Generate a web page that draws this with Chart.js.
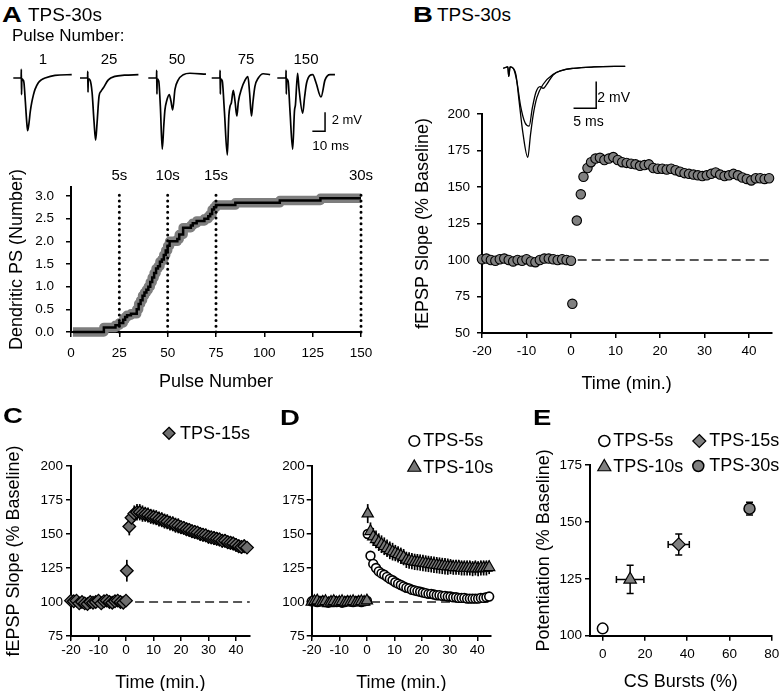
<!DOCTYPE html>
<html><head><meta charset="utf-8">
<script src="https://cdn.jsdelivr.net/npm/chart.js@4.4.0/dist/chart.umd.min.js"></script>
<style>
html,body{margin:0;padding:0;background:#fff;overflow:hidden;}
#page{position:relative;width:780px;height:691px;overflow:hidden;font-family:'Liberation Sans',Arial,Helvetica,sans-serif;color:#000;background:#fff;}
canvas{position:absolute;}
.t{position:absolute;white-space:nowrap;line-height:1;}
.L{font-weight:bold;font-size:22px;transform:scaleX(1.25);transform-origin:0 0;}
</style></head>
<body><div id="page">
<canvas id="cTr0"></canvas><canvas id="cTr1"></canvas><canvas id="cTr2"></canvas><canvas id="cTr3"></canvas><canvas id="cTr4"></canvas>
<canvas id="cA"></canvas>
<canvas id="cB"></canvas>
<canvas id="cBtr"></canvas>
<canvas id="cC"></canvas>
<canvas id="cD"></canvas>
<canvas id="cE"></canvas>
<div class="t L" style="left:2px;top:4px">A</div>
<div class="t" style="left:28px;top:5px;font-size:19px">TPS-30s</div>
<div class="t" style="left:12px;top:27px;font-size:17px">Pulse Number:</div>
<div class="t" style="left:331.7px;top:113.3px;font-size:13px">2 mV</div>
<div class="t" style="left:312.3px;top:139.2px;font-size:13.5px">10 ms</div>
<div class="t L" style="left:413px;top:4px">B</div>
<div class="t" style="left:437px;top:5px;font-size:19px">TPS-30s</div>
<div class="t" style="left:597.3px;top:89.8px;font-size:14px">2 mV</div>
<div class="t" style="left:573.3px;top:113.7px;font-size:14px">5 ms</div>
<div class="t L" style="left:3px;top:405px">C</div>
<div class="t L" style="left:280px;top:407px">D</div>
<div class="t L" style="left:533px;top:407px">E</div>
</div>
<script>
// ======================= DATA =======================
// Panel A – example field-potential traces (time ms, voltage mV) at given pulse numbers
const traceNames = ['1', '25', '50', '75', '150'];
const trace1 = [[0,0],[6.2,0],[6.3,0.9],[6.5,-1.75],[6.7,-0.1],[7.6,-0.2],[8.4,-0.5],[9.5,-2.5],[10.5,-4.5],[11.3,-5.55],[12.3,-4.8],[13.4,-3.5],[14.5,-2.6],[15.8,-1.8],[17.1,-1.2],[19.7,-0.5],[22,-0.2],[25,0],[32.8,0.28],[46,0.35]];
const trace25 = [[0,0],[6.0,0],[6.1,0.7],[6.3,-1.5],[6.5,-0.1],[7.8,-0.2],[9.5,-1.5],[11,-4.5],[12.3,-6.55],[13.4,-4.8],[15,-1.9],[16.5,-1.4],[18.3,-1.05],[22.3,-0.2],[27.5,0.17],[35,0.3],[46,0.35]];
const trace50 = [[0,0],[6.5,0],[6.6,0.8],[6.8,-1.7],[7.0,-0.1],[8.2,-0.3],[9.5,-3],[11,-7.5],[12.2,-5],[13.1,-3.35],[14.5,-2.4],[16.5,-1.75],[17.8,-2.4],[19.2,-3.35],[21,-1.2],[23.6,-0.2],[27.6,0.35],[32.8,0.5],[45.4,0.4]];
const trace75 = [[0,0],[6.5,0],[6.6,0.8],[6.8,-1.7],[7.0,-0.1],[8.3,-0.3],[10,-3.5],[12.3,-8.1],[13.5,-4],[14.4,-3.0],[15.5,-2.6],[17,-1.3],[18.4,-2.5],[19.8,-4.0],[21,-2.5],[23.7,-1.05],[26,-0.3],[28.5,0.15],[29.8,-1.5],[31.3,-4.0],[32.5,-2.5],[34,-0.9],[36.7,0],[40.6,0.45],[46,0.35]];
const trace150 = [[0,0],[6.8,0],[6.9,0.8],[7.1,-1.7],[7.3,-0.1],[8.5,-0.3],[10,-3.5],[12.1,-7.5],[13.5,-3.5],[14.3,-2.8],[16,0.5],[17,-1],[20,-3.7],[21.5,-2],[23.1,-0.5],[27.9,0.35],[30.5,-0.5],[34.4,-2.0],[37.6,-0.2],[41.5,0.35],[45.4,0.35]];

// Panel A – cumulative dendritic population spikes vs pulse number (step curve)
const pulsesA = [1,16,17,23,25,27,28,29,31,34,35,36,37,38,39,40,41,42,43,44,45,46,47,48,49,50,51,53,55,56,58,60,62,63,65,67,69,71,72,73,74,75,85,108,129,150];
const dendriticPS = [0,0,0.1,0.15,0.2,0.27,0.33,0.37,0.4,0.5,0.62,0.7,0.8,0.87,0.93,1.0,1.1,1.2,1.3,1.4,1.45,1.55,1.6,1.7,1.8,1.9,2.0,2.0,2.05,2.15,2.3,2.3,2.35,2.4,2.45,2.45,2.5,2.55,2.6,2.7,2.75,2.8,2.85,2.9,2.95,2.95];
const markerPulses = [25, 50, 75, 150];
const markerLabels = ['5s', '10s', '15s', '30s'];

// Panel B – example traces (ms, mV) and fEPSP slope time course
const traceB1 = [[0,0],[1.0,0.1],[1.2,-0.6],[1.5,0.1],[2.2,0],[2.8,-0.5],[3.5,-2.5],[4.3,-4.8],[5.4,-6.7],[6.0,-5.0],[6.6,-3.5],[7.4,-2.2],[8.8,-1.2],[11,-0.45],[13,-0.15],[15.5,0],[20,0.1],[26.9,0.15]];
const traceB2 = [[0,0],[1.0,0.1],[1.2,-0.6],[1.5,0.1],[2.2,0],[3.0,-1],[3.8,-2.8],[4.8,-4.1],[5.7,-4.35],[6.4,-3.0],[7.2,-1.8],[8.1,-1.38],[8.8,-1.5],[9.5,-1.25],[11,-0.5],[13,-0.15],[15.5,0],[20,0.1],[26.9,0.15]];
const timeB = [-20,-19,-18,-17,-16,-15,-14,-13,-12,-11,-10,-9,-8,-7,-6,-5,-4,-3,-2,-1,0,0.3,1.3,2.2,2.8,3.7,4.5,5.5,6.5,7.5,8.5,9.5,10.5,11.5,12.5,13.5,14.5,15.5,16.5,17.5,18.5,19.5,20.5,21.5,22.5,23.5,24.5,25.5,26.5,27.5,28.5,29.5,30.5,31.5,32.5,33.5,34.5,35.5,36.5,37.5,38.5,39.5,40.5,41.5,42.5,43.5,44.5];
const slopeB = [100.5,101,100,99.5,100.5,101,100,99,100,99.5,100.5,99,98.5,100,101,101,100.5,100,100.5,100,99.5,
  70,127,145,157,163,167,169.5,170,168.5,169.5,170.5,168.5,167,166.5,166,165.5,164.5,165,165.5,163,162.5,162.5,162,162.5,161.5,160.5,159.5,159,158.5,158,157.5,158,159,160,158.5,157.5,158,159,158,156.5,155.5,154.5,156,156,155.5,156];

// Panel C – TPS-15s
const timeC = [-20,-19,-18,-17,-16,-15,-14,-13,-12,-11,-10,-9,-8,-7,-6,-5,-4,-3,-2,-1,0,0.3,1.2,2,3,4,5,6,7,8,9,10,11,12,13,14,15,16,17,18,19,20,21,22,23,24,25,26,27,28,29,30,31,32,33,34,35,36,37,38,39,40,41,42,43,44];
const slopeC = [101,100.5,101,99,100,99,98.5,100,99.5,100,101,99,100.5,101,100,99.5,100.5,101,100,99.5,101,
  123,155.5,162,165,166,166,165,164.5,164,163,162.5,162,161,160.5,159.5,159,158,157.5,156.5,156,155,154.5,153.5,153,152,151.5,151,150,149.5,149,148,147.5,147,146.5,146,145,145,144,143.5,143,142,141,140.5,141,140];
const semC = [1.5,1.5,1.5,1.5,1.5,1.5,1.5,1.5,1.5,1.5,1.5,1.5,1.5,1.5,1.5,1.5,1.5,1.5,1.5,1.5,1.5,
  8,6.5,5.5,6,6,6,6,5.5,5.5,5.5,5.5,5.5,5.5,5.5,5.5,5.5,5.5,5.5,5.5,5.5,5,5,5,5,5,5,5,5,5,5,5,5,5,5,5,5,5,5,5,5,5,5,5,5,4.5];

// Panel D – TPS-5s and TPS-10s
const timeD = [-20,-19,-18,-17,-16,-15,-14,-13,-12,-11,-10,-9,-8,-7,-6,-5,-4,-3,-2,-1,0,0.3,1.3,2.3,3.3,4.3,5.3,6.3,7.3,8.3,9.3,10.3,11.3,12.3,13.3,14.3,15.3,16.3,17.3,18.3,19.3,20.3,21.3,22.3,23.3,24.3,25.3,26.3,27.3,28.3,29.3,30.3,31.3,32.3,33.3,34.3,35.3,36.3,37.3,38.3,39.3,40.3,41.3,42.3,43.3,44.3];
const slope5s = [100.5,101,100,100.5,101,100,99.5,100.5,101,100,100.5,99.5,100,101,100.5,100,100.5,101,100,100.5,101,
  150,134,128,125,122.5,121,120,118.5,117,116,114.5,113.5,112.5,111.5,110.5,110,109,108.5,108,107.5,107,106.5,106,106,105.5,105,105,104.5,104.5,104,104,103.5,103.5,103,103,103,102.5,102.5,102.5,102.5,102.5,103,103,103.5,104];
const slope10s = [100,100.5,101,99.5,100,100.5,99,100,100.5,99.5,100,100.5,99.5,100,100,100.5,99.5,100,100.5,100,101,
  165,152,148,146,144,142.5,141,139.5,138,137,136,135,134,133,131,130.5,130,129.5,129.3,129,128.7,128.3,128,127.7,127.4,127.1,126.8,126.5,126.3,126,126,125.5,125.5,125.5,125,125,125,125,124.5,125,124.5,125,125,125,125.5];
const sem10s = [1.5,1.5,1.5,1.5,1.5,1.5,1.5,1.5,1.5,1.5,1.5,1.5,1.5,1.5,1.5,1.5,1.5,1.5,1.5,1.5,1.5,
  7,6.5,6.5,6.5,6.5,6.5,6.5,6.5,6.5,6.5,6,6,6,6,6,6,6,6,6,6,6,6,6,6,6,6,6,6,6,6,5.5,5.5,5.5,5.5,5.5,5.5,5.5,5.5,5.5,5.5,5.5,5.5,5.5,5.5,5];

// Reference (baseline) level
const refLevel = 100;
const refSpanB = [1.5, 45];
const refSpanC = [3.3, 45];
const refSpanD = [1.5, 44];

// Panel E – potentiation vs CS bursts
const eLabels = ['TPS-5s', 'TPS-10s', 'TPS-15s', 'TPS-30s'];
const eBursts = [0, 13, 36, 69.5];
const eBurstsSem = [0, 6.5, 5, 0];
const ePot = [103.2, 124.7, 140.1, 155.8];
const ePotSem = [0, 6.2, 4.6, 2.8];

// ======================= HELPERS =======================
const FONT = "'Liberation Sans', Arial, Helvetica, sans-serif";
Chart.defaults.font.family = FONT;
Chart.defaults.color = '#000';
const GRAY = '#808080';

function setup(id, box) {
  const c = document.getElementById(id);
  c.width = box.w; c.height = box.h;
  c.style.left = box.l + 'px'; c.style.top = box.t + 'px';
  c.style.width = box.w + 'px'; c.style.height = box.h + 'px';
  return c;
}
function fixedSize(sz) {
  return function (s) {
    if (s.isHorizontal()) s.height = sz; else s.width = sz;
    s.paddingLeft = 0; s.paddingRight = 0; s.paddingTop = 0; s.paddingBottom = 0;
  };
}
function axis(o) {
  const horiz = o.pos === 'bottom';
  return {
    type: 'linear', position: o.pos, min: o.min, max: o.max,
    ticks: { stepSize: o.step, includeBounds: false, padding: o.tickPad, font: { size: 13.5 }, color: '#000',
      maxRotation: 0, autoSkip: false, callback: o.fmt || (v => String(v)) },
    grid: { drawOnChartArea: false, drawTicks: true, tickLength: 5, tickWidth: 1.5, color: '#000', lineWidth: 1.5 },
    border: { display: true, color: '#000', width: 2 },
    title: { display: !!o.title, text: o.title || '', font: { size: 18 }, color: '#000',
      padding: horiz ? { top: 0, bottom: o.titlePad || 0 } : { top: o.titlePad || 0, bottom: 0 } },
    afterFit: fixedSize(o.size)
  };
}
function xy(xs, ys) { return xs.map((x, i) => ({ x: x, y: ys[i] })); }
function pairs(arr) { return arr.map(p => ({ x: p[0], y: p[1] })); }

function drawMarker(ctx, style, r, x, y, fill, stroke, bw) {
  ctx.save(); ctx.beginPath();
  if (style === 'triangle') {
    for (let k = 0; k < 3; k++) {
      const a = k * 2 * Math.PI / 3;
      const px = x + Math.sin(a) * r, py = y - Math.cos(a) * r;
      if (k) ctx.lineTo(px, py); else ctx.moveTo(px, py);
    }
    ctx.closePath();
  } else if (style === 'rectRot') {
    ctx.moveTo(x, y - r); ctx.lineTo(x + r, y); ctx.lineTo(x, y + r); ctx.lineTo(x - r, y); ctx.closePath();
  } else {
    ctx.arc(x, y, r, 0, Math.PI * 2);
  }
  ctx.fillStyle = fill; ctx.fill();
  ctx.lineWidth = bw; ctx.strokeStyle = stroke; ctx.stroke();
  ctx.restore();
}

const errorBarPlugin = {
  id: 'errorBars',
  beforeDatasetsDraw(chart, args, opts) {
    const ctx = chart.ctx, xs = chart.scales.x, ys = chart.scales.y;
    (opts.sets || []).forEach(s => {
      const ds = chart.data.datasets[s.dataset];
      ctx.save(); ctx.strokeStyle = '#000'; ctx.lineWidth = s.width || 1.2;
      ds.data.forEach((p, i) => {
        const px = xs.getPixelForValue(p.x), py = ys.getPixelForValue(p.y);
        const ye = s.yErr ? s.yErr[i] : 0, xe = s.xErr ? s.xErr[i] : 0, cap = s.cap || 0;
        ctx.beginPath();
        if (ye) {
          const t = ys.getPixelForValue(p.y + ye), b = ys.getPixelForValue(p.y - ye);
          ctx.moveTo(px, t); ctx.lineTo(px, b);
          if (cap) { ctx.moveTo(px - cap, t); ctx.lineTo(px + cap, t); ctx.moveTo(px - cap, b); ctx.lineTo(px + cap, b); }
        }
        if (xe) {
          const l = xs.getPixelForValue(p.x - xe), r = xs.getPixelForValue(p.x + xe);
          ctx.moveTo(l, py); ctx.lineTo(r, py);
          if (cap) { ctx.moveTo(l, py - cap); ctx.lineTo(l, py + cap); ctx.moveTo(r, py - cap); ctx.lineTo(r, py + cap); }
        }
        ctx.stroke();
      });
      ctx.restore();
    });
  }
};

const freeLegendPlugin = {
  id: 'freeLegend',
  afterDraw(chart, args, opts) {
    const ctx = chart.ctx;
    (opts.items || []).forEach(it => {
      const ds = chart.data.datasets[it.dataset];
      drawMarker(ctx, ds.pointStyle, it.r, it.x, it.y, ds.pointBackgroundColor, ds.pointBorderColor, ds.pointBorderWidth);
      ctx.save();
      ctx.fillStyle = '#000'; ctx.font = '18px ' + FONT; ctx.textBaseline = 'middle'; ctx.textAlign = 'left';
      ctx.fillText(ds.label, it.x + it.gap, it.y + 0.5);
      ctx.restore();
    });
  }
};

const markerPlugin = {
  id: 'pulseMarkers',
  afterDatasetsDraw(chart, args, opts) {
    const ctx = chart.ctx, x = chart.scales.x, y = chart.scales.y;
    ctx.save();
    ctx.setLineDash([0, 5.7]); ctx.lineCap = 'round'; ctx.lineWidth = 3; ctx.strokeStyle = '#000';
    markerPulses.forEach(p => {
      const px = x.getPixelForValue(p);
      ctx.beginPath(); ctx.moveTo(px, y.getPixelForValue(0)); ctx.lineTo(px, y.getPixelForValue(opts.top)); ctx.stroke();
    });
    ctx.setLineDash([]);
    ctx.font = '15px ' + FONT; ctx.textAlign = 'center'; ctx.textBaseline = 'alphabetic'; ctx.fillStyle = '#000';
    markerPulses.forEach((p, i) => ctx.fillText(markerLabels[i], x.getPixelForValue(p), opts.labelY));
    ctx.restore();
  }
};

const scaleBarPlugin = {
  id: 'scaleBar',
  afterDatasetsDraw(chart, args, o) {
    if (!o || !o.show) return;
    const ctx = chart.ctx, x = chart.scales.x, y = chart.scales.y;
    ctx.save(); ctx.strokeStyle = '#000'; ctx.lineWidth = 1.5; ctx.lineCap = 'butt';
    ctx.beginPath();
    ctx.moveTo(x.getPixelForValue(o.x0), y.getPixelForValue(o.y0));
    ctx.lineTo(x.getPixelForValue(o.x0 + o.dx), y.getPixelForValue(o.y0));
    ctx.lineTo(x.getPixelForValue(o.x0 + o.dx), y.getPixelForValue(o.y0 + o.dy));
    ctx.stroke(); ctx.restore();
  }
};

function traceChart(id, box, area, xr, yr, datasets, plugins, pluginOpts) {
  const c = setup(id, box);
  return new Chart(c, {
    type: 'line', data: { datasets },
    options: {
      responsive: false, animation: false, events: [], devicePixelRatio: 1,
      layout: { autoPadding: false, padding: { left: area.l - box.l, top: area.t - box.t, right: box.l + box.w - area.r, bottom: box.t + box.h - area.b } },
      scales: { x: { type: 'linear', min: xr[0], max: xr[1], display: false }, y: { type: 'linear', min: yr[0], max: yr[1], display: false } },
      plugins: Object.assign({ legend: { display: false }, tooltip: { enabled: false } }, pluginOpts || {})
    },
    plugins: plugins || []
  });
}
function axesChart(id, box, area, datasets, xo, yo, plugins, pluginOpts) {
  const c = setup(id, box);
  xo.pos = 'bottom'; yo.pos = 'left';
  xo.size = box.t + box.h - area.b; yo.size = area.l - box.l;
  return new Chart(c, {
    type: 'line', data: { datasets },
    options: {
      responsive: false, animation: false, events: [], devicePixelRatio: 1,
      layout: { autoPadding: false, padding: { left: 0, top: area.t - box.t, right: box.l + box.w - area.r, bottom: 0 } },
      scales: { x: axis(xo), y: axis(yo) },
      plugins: Object.assign({ legend: { display: false }, tooltip: { enabled: false } }, pluginOpts || {})
    },
    plugins: plugins || []
  });
}
function traceSet(data, w) {
  return { data: pairs(data), borderColor: '#000', borderWidth: w || 1.6, pointRadius: 0, fill: false,
    cubicInterpolationMode: 'monotone', clip: false };
}
function refSet(span) {
  return { data: [{ x: span[0], y: refLevel }, { x: span[1], y: refLevel }], borderColor: '#222', borderWidth: 1.5,
    borderDash: [9, 5], pointRadius: 0, fill: false, order: 10, clip: false };
}

// ======================= PANEL A – traces =======================
const traceLeft = [13.3, 80, 148.3, 211.7, 277.3];
const traceLabelX = [43, 109, 177, 246, 306];
const allTraces = [trace1, trace25, trace50, trace75, trace150];
const msPerPx = 1.27, mvPerPx = 9.5;
allTraces.forEach((tr, i) => {
  const l = traceLeft[i];
  const box = { l: Math.round(l) - 8, t: 55, w: 75, h: 115 };
  const area = { l: l, r: l + 46 * msPerPx, t: 78 - 1.5 * mvPerPx, b: 78 + 8.5 * mvPerPx };
  const last = i === allTraces.length - 1;
  traceChart('cTr' + i, box, area, [0, 46], [-8.5, 1.5], [traceSet(tr, 1.7)],
    last ? [scaleBarPlugin] : [], last ? { scaleBar: { show: true, x0: 27.6, y0: -5.6, dx: 10, dy: 2 } } : {});
  const d = document.createElement('div');
  d.className = 't'; d.textContent = traceNames[i];
  d.style.cssText = 'left:' + (traceLabelX[i] - 20) + 'px;top:51.3px;width:40px;text-align:center;font-size:15px';
  document.getElementById('page').appendChild(d);
});

// ======================= PANEL A – step plot =======================
axesChart('cA', { l: 0, t: 150, w: 380, h: 250 }, { l: 71, r: 361, t: 186.9, b: 332 },
  [
    { data: xy(pulsesA, dendriticPS), stepped: 'before', borderColor: '#000', borderWidth: 2.5, pointRadius: 0, fill: false, clip: false },
    { data: xy(pulsesA, dendriticPS), stepped: 'before', borderColor: '#7e7e7e', borderWidth: 9.5, borderJoinStyle: 'round', pointRadius: 0, fill: false, clip: false, order: 5 }
  ],
  { min: 0, max: 150, step: 25, tickPad: 8.6, title: 'Pulse Number', titlePad: 7.5 },
  { min: 0, max: 3.2, step: 0.5, tickPad: 12, title: 'Dendritic PS (Number)', titlePad: 6.2, fmt: v => v.toFixed(1) },
  [markerPlugin], { pulseMarkers: { top: 3.1, labelY: 29.7 } });

// ======================= PANEL B =======================
traceChart('cBtr', { l: 490, t: 50, w: 150, h: 125 }, { l: 503.3, r: 625.2, t: 60.3, b: 164.1 }, [0, 26.9], [-7.2, 0.6],
  [traceSet(traceB1, 1.3), traceSet(traceB2, 1.3)], [scaleBarPlugin], { scaleBar: { show: true, x0: 15.5, y0: -3, dx: 5, dy: 2 } });

axesChart('cB', { l: 400, t: 100, w: 380, h: 300 }, { l: 482, r: 771.3, t: 114, b: 333 },
  [
    { label: 'TPS-30s', data: xy(timeB, slopeB), showLine: false, pointStyle: 'circle', pointRadius: 4.7,
      pointBackgroundColor: GRAY, pointBorderColor: '#000', pointBorderWidth: 1.1, clip: false },
    refSet(refSpanB)
  ],
  { min: -20, max: 45, step: 10, tickPad: 5.6, title: 'Time (min.)', titlePad: 5.2 },
  { min: 50, max: 200, step: 25, tickPad: 7, title: 'fEPSP Slope (% Baseline)', titlePad: 12.2 });

// ======================= PANEL C =======================
axesChart('cC', { l: 0, t: 420, w: 262, h: 280 }, { l: 71, r: 249.75, t: 466, b: 636 },
  [
    { label: 'TPS-15s', data: xy(timeC, slopeC), showLine: false, pointStyle: 'rectRot', pointRadius: 6.3,
      pointBackgroundColor: '#6e6e6e', pointBorderColor: '#000', pointBorderWidth: 1.3, clip: false },
    refSet(refSpanC)
  ],
  { min: -20, max: 45, step: 10, tickPad: 1, title: 'Time (min.)', titlePad: 6.2 },
  { min: 75, max: 200, step: 25, tickPad: 3, title: 'fEPSP Slope (% Baseline)', titlePad: 3.2 },
  [errorBarPlugin, freeLegendPlugin],
  { errorBars: { sets: [{ dataset: 0, yErr: semC, width: 1.7 }] },
    freeLegend: { items: [{ dataset: 0, x: 169, y: 13.3, r: 6, gap: 11 }] } });

// ======================= PANEL D =======================
axesChart('cD', { l: 262, t: 420, w: 252, h: 280 }, { l: 311.7, r: 491.1, t: 466, b: 636 },
  [
    { label: 'TPS-10s', data: xy(timeD, slope10s), showLine: false, pointStyle: 'triangle', pointRadius: 6.5,
      pointBackgroundColor: '#777', pointBorderColor: '#000', pointBorderWidth: 1.2, clip: false },
    { label: 'TPS-5s', data: xy(timeD, slope5s), showLine: false, pointStyle: 'circle', pointRadius: 4.4,
      pointBackgroundColor: '#fff', pointBorderColor: '#000', pointBorderWidth: 1.6, clip: false },
    refSet(refSpanD)
  ],
  { min: -20, max: 45, step: 10, tickPad: 1, title: 'Time (min.)', titlePad: 5.9 },
  { min: 75, max: 200, step: 25, tickPad: 2 },
  [errorBarPlugin, freeLegendPlugin],
  { errorBars: { sets: [{ dataset: 0, yErr: sem10s, width: 1.7 }] },
    freeLegend: { items: [{ dataset: 1, x: 152.3, y: 21, r: 5.3, gap: 9 }, { dataset: 0, x: 152.3, y: 47.5, r: 7.5, gap: 9 }] } });

// ======================= PANEL E =======================
const eStyles = [
  { pointStyle: 'circle', pointRadius: 5.3, pointBackgroundColor: '#fff', pointBorderWidth: 1.5 },
  { pointStyle: 'triangle', pointRadius: 7.2, pointBackgroundColor: GRAY, pointBorderWidth: 1.2 },
  { pointStyle: 'rectRot', pointRadius: 6.5, pointBackgroundColor: GRAY, pointBorderWidth: 1.2 },
  { pointStyle: 'circle', pointRadius: 5.5, pointBackgroundColor: GRAY, pointBorderWidth: 1.5 }
];
const eSets = eLabels.map((lab, i) => Object.assign({ label: lab, data: [{ x: eBursts[i], y: ePot[i] }], showLine: false,
  pointBorderColor: '#000', clip: false }, eStyles[i]));
axesChart('cE', { l: 514, t: 420, w: 266, h: 280 }, { l: 590, r: 771.7, t: 465, b: 635.7 },
  eSets,
  { min: -6, max: 80, step: 20, tickPad: 5.5, title: 'CS Bursts (%)', titlePad: 7.5 },
  { min: 100, max: 175, step: 25, tickPad: 3, title: 'Potentiation (% Baseline)', titlePad: 19.2 },
  [errorBarPlugin, freeLegendPlugin],
  { errorBars: { sets: [0, 1, 2, 3].map(i => ({ dataset: i, yErr: [ePotSem[i]], xErr: [eBurstsSem[i]], cap: 3.5, width: 1.5 })) },
    freeLegend: { items: [
      { dataset: 0, x: 90.3, y: 21, r: 5.5, gap: 9 },
      { dataset: 2, x: 185.3, y: 21, r: 6.5, gap: 10 },
      { dataset: 1, x: 90.3, y: 47, r: 7.5, gap: 9 },
      { dataset: 3, x: 184.3, y: 46, r: 5.5, gap: 11 }
    ] } });
</script>
</body></html>
